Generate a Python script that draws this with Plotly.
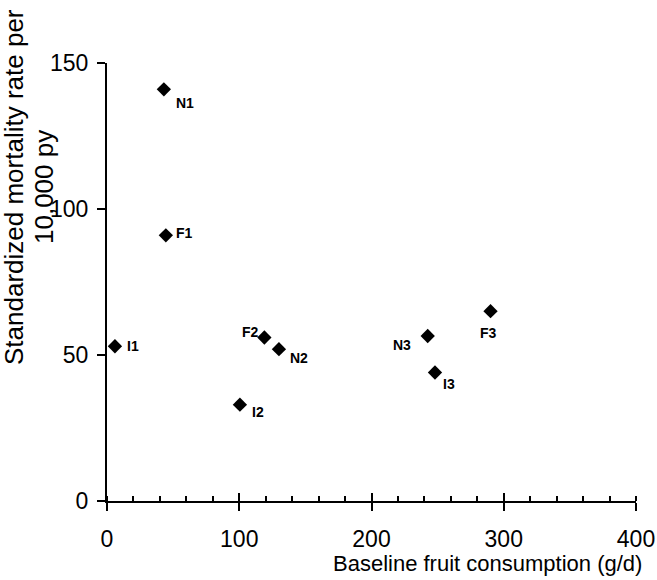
import plotly.graph_objects as go

# Data
labels = ["N1", "F1", "I1", "F2", "N2", "I2", "N3", "I3", "F3"]
fruit = [43, 44.5, 6, 119, 130, 100.5, 242.5, 248, 290]          # g/d
mortality = [141, 91, 53, 56, 52, 33, 56.5, 44, 65]              # per 10,000 py

x_ticks = [0, 100, 200, 300, 400]
y_ticks = [0, 50, 100, 150]

# label placement (pixel shifts; style only)
label_shift = {
    "N1": (21, -14), "F1": (19, 2), "I1": (18, 0), "F2": (-14, 5),
    "N2": (20, -9), "I2": (18, -7), "N3": (-26, -9), "I3": (14, -11),
    "F3": (-2, -22),
}

FONT = "Liberation Sans, Arial, sans-serif"

W, H = 657, 580
PL, PR, PT, PB = 107, 636, 63, 501   # plot area in page px
PW, PH = PR - PL, PB - PT


def px_to_paper(px, py):
    return (px - PL) / PW, (PB - py) / PH


fig = go.Figure()
fig.add_trace(go.Scatter(
    x=fruit, y=mortality, mode="markers",
    marker=dict(symbol="diamond", size=11, color="black"),
    showlegend=False, cliponaxis=False,
))
# invisible trace on the overlay axis (for inside ticks)
fig.add_trace(go.Scatter(x=[x_ticks[0]], y=[y_ticks[0]], xaxis="x2", mode="markers",
                         marker=dict(opacity=0), showlegend=False, hoverinfo="skip"))

for lab, xv, yv in zip(labels, fruit, mortality):
    dx, dy = label_shift[lab]
    fig.add_annotation(x=xv, y=yv, text="<b>" + lab + "</b>", showarrow=False,
                       xshift=dx, yshift=dy,
                       font=dict(family=FONT, size=14, color="black"))

# axis titles as annotations (positioned like the reference)
ax1, ay1 = px_to_paper(14, 187)
ax2, ay2 = px_to_paper(44, 187)
ax3, ay3 = px_to_paper(487, 563)
fig.add_annotation(xref="paper", yref="paper", x=ax1, y=ay1,
                   text="Standardized mortality rate per", textangle=-90,
                   showarrow=False, xanchor="center", yanchor="middle",
                   font=dict(family=FONT, size=26, color="black"))
fig.add_annotation(xref="paper", yref="paper", x=ax2, y=ay2,
                   text="10,000 py", textangle=-90,
                   showarrow=False, xanchor="center", yanchor="middle",
                   font=dict(family=FONT, size=26, color="black"))
fig.add_annotation(xref="paper", yref="paper", x=ax3, y=ay3,
                   text="Baseline fruit consumption (g/d)",
                   showarrow=False, xanchor="center", yanchor="middle",
                   font=dict(family=FONT, size=22, color="black"))

fig.update_layout(
    width=W, height=H,
    margin=dict(l=PL, r=W - PR, t=PT, b=H - PB, autoexpand=False),
    paper_bgcolor="white", plot_bgcolor="white",
    font=dict(family=FONT, size=23, color="black"),
    xaxis=dict(range=[0, 400], tickvals=x_ticks, showgrid=False, zeroline=False,
               automargin=False,
               showline=True, linecolor="black", linewidth=2,
               ticks="outside", ticklen=8, tickwidth=2, tickcolor="black",
               ticklabelstandoff=8,
               minor=dict(ticks="inside", dtick=20, ticklen=5, tickwidth=1.5,
                          tickcolor="black", showgrid=False)),
    xaxis2=dict(range=[0, 400], overlaying="x", anchor="y", side="bottom",
                automargin=False,
                tickvals=x_ticks, showticklabels=False, showgrid=False,
                zeroline=False, showline=False,
                ticks="inside", ticklen=8, tickwidth=2, tickcolor="black"),
    yaxis=dict(range=[0, 150], tickvals=y_ticks, showgrid=False, zeroline=False,
               automargin=False,
               showline=True, linecolor="black", linewidth=2,
               ticks="outside", ticklen=8, tickwidth=2, tickcolor="black",
               ticklabelstandoff=4),
)

fig.write_html(
    "out.html",
    config={"displayModeBar": False},
    post_script="document.body.style.margin='0';document.body.style.overflow='hidden';",
)
